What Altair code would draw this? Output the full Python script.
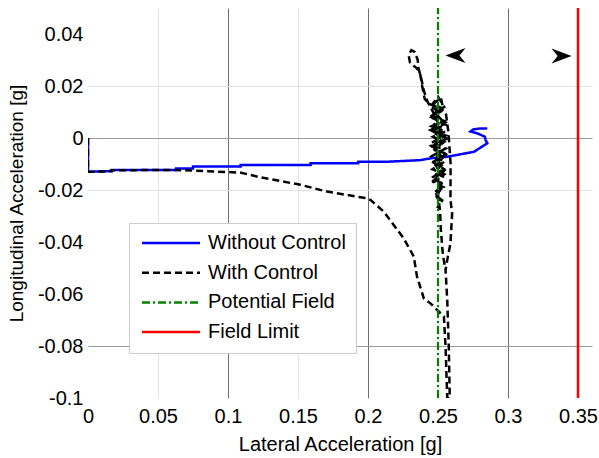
import altair as alt
import pandas as pd

series_names = ["Without Control", "With Control", "Potential Field", "Field Limit"]
series_colors = ["#0000ff", "#000000", "#008000", "#ff0000"]
series_dash = [[1, 0], [7, 4], [8, 3, 2, 3], [1, 0]]
series_width = [2.5, 2.5, 2.2, 2.5]

# Without Control (blue)
blue_x = [0.0, 0.0, 0.017, 0.017, 0.063, 0.063, 0.075, 0.075, 0.109, 0.109, 0.159, 0.159,
          0.193, 0.193, 0.215, 0.2375, 0.245, 0.2566, 0.2637, 0.2757, 0.2815, 0.2852,
          0.284, 0.2835, 0.278, 0.2732, 0.2752, 0.2792, 0.2852]
blue_y = [0.0, -0.013, -0.0127, -0.0123, -0.0123, -0.0117, -0.0117, -0.011, -0.011, -0.0104,
          -0.0104, -0.0097, -0.0097, -0.0091, -0.0091, -0.0085, -0.0078, -0.0072, -0.0065,
          -0.0053, -0.0033, -0.002, -0.0008, 0.0005, 0.0018, 0.0025, 0.0033, 0.0036, 0.0037]

# With Control (black dashed): approach, drop to the bottom, climb, oscillate, loop, descend
black_x = [0.0, 0.0, 0.017, 0.017, 0.063, 0.0777, 0.1087, 0.123, 0.1517, 0.1707, 0.1993,
           0.2017, 0.2112, 0.2255, 0.2327, 0.235, 0.2399, 0.2446, 0.2518,
           0.2542, 0.2554, 0.2566, 0.2584, 0.2577, 0.2566, 0.2554, 0.2566, 0.2589, 0.2601,
           0.2589, 0.259, 0.2575, 0.2555,
           0.246, 0.25, 0.2545, 0.244, 0.255, 0.2445, 0.2555, 0.245, 0.2555, 0.2455, 0.255,
           0.246, 0.2545, 0.247, 0.254, 0.248, 0.253, 0.2495,
           0.2515, 0.2475, 0.2535, 0.2465, 0.2545, 0.2455, 0.255, 0.245, 0.2555, 0.2448,
           0.2555, 0.2452, 0.2545, 0.2465, 0.252,
           0.2535, 0.2475, 0.2525, 0.2465, 0.2535, 0.2475, 0.2525, 0.2485, 0.2535, 0.2495, 0.2525,
           0.2485, 0.2515, 0.2475, 0.252, 0.2465, 0.251, 0.2455,
           0.2535, 0.2445, 0.2545, 0.2455, 0.2555, 0.2465, 0.2545, 0.2475, 0.2535, 0.2485, 0.2525,
           0.2505, 0.2465, 0.2545, 0.2455, 0.2555, 0.2445, 0.2555, 0.2455, 0.2545, 0.247, 0.2525,
           0.244, 0.2405,
           0.2387, 0.237, 0.2345, 0.23, 0.229, 0.231, 0.2335, 0.2355, 0.236, 0.238, 0.24,
           0.2425, 0.2475, 0.253, 0.25, 0.254, 0.25, 0.2515, 0.252, 0.2535, 0.2554]
black_y = [0.0, -0.013, -0.0128, -0.0124, -0.0123, -0.0126, -0.0133, -0.0151, -0.018, -0.0206,
           -0.0232, -0.0238, -0.0283, -0.0386, -0.0456, -0.0533, -0.0617, -0.0636, -0.0674,
           -0.0686, -0.0803, -0.1, -0.1, -0.0803, -0.0623, -0.0508, -0.0469, -0.0405, -0.029,
           -0.0238, -0.01, 0.002, 0.01,
           0.013, 0.0159, 0.012, 0.008, 0.006, 0.003, 0.001, -0.002, -0.004, -0.007, -0.009,
           -0.012, -0.014, -0.017, -0.019, -0.022, -0.024, -0.027,
           -0.025, -0.021, -0.018, -0.015, -0.012, -0.009, -0.006, -0.003, 0.0, 0.003,
           0.005, 0.008, 0.011, 0.013, 0.0155,
           0.012, 0.01, 0.007, 0.004, 0.002, -0.001, -0.005, -0.008, -0.011, -0.016, -0.02,
           -0.013, -0.009, -0.004, 0.001, 0.006, 0.01, 0.012,
           0.0105, 0.0085, 0.0065, 0.0045, 0.0025, 0.0005, -0.0015, -0.0045, -0.0075, -0.0105, -0.0145,
           -0.0185, -0.0165, -0.0125, -0.0095, -0.0065, -0.0035, -0.0005, 0.0025, 0.0055, 0.0085, 0.0115,
           0.013, 0.015,
           0.02, 0.0255, 0.027, 0.029, 0.032, 0.0338, 0.033, 0.03, 0.027, 0.023, 0.018,
           0.014, 0.009, 0.002, -0.008, -0.014, -0.022, -0.028, -0.035, -0.045, -0.0508]

# Potential field and field limit
field_x = [0.25, 0.25]
field_y = [-0.1, 0.05]
limit_x = [0.35, 0.35]
limit_y = [-0.1, 0.05]

# Arrowheads
arrow_x = [0.2625, 0.3383]
arrow_y = [0.0317, 0.0315]
arrow_dir = ["left", "right"]

x_ticks = [0, 0.05, 0.1, 0.15, 0.2, 0.25, 0.3, 0.35]
y_ticks = [0.04, 0.02, 0, -0.02, -0.04, -0.06, -0.08, -0.1]

rows = []
for name, xs, ys in [(series_names[0], blue_x, blue_y), (series_names[1], black_x, black_y),
                     (series_names[2], field_x, field_y), (series_names[3], limit_x, limit_y)]:
    for i, (a, b) in enumerate(zip(xs, ys)):
        rows.append({"series": name, "x": a, "y": b, "idx": i})
df = pd.DataFrame(rows)
arrows = pd.DataFrame({"x": arrow_x, "y": arrow_y, "dir": arrow_dir})

FONT = "Liberation Sans"

x_enc = alt.X("x:Q", scale=alt.Scale(domain=[0, 0.36], nice=False, zero=False),
              axis=alt.Axis(values=x_ticks, title="Lateral Acceleration [g]",
                            labelExpr="'' + datum.value", domain=False, ticks=False,
                            labelFlush=False, labelPadding=8, titlePadding=8,
                            labelFont=FONT, labelFontSize=20, labelColor="#000000",
                            titleFont=FONT, titleFontSize=20, titleColor="#000000",
                            titleFontWeight="normal", labelOverlap=False, labelBound=False,
                            gridColor={"condition": {"test": "datum.value == 0.1 || datum.value == 0.2 || datum.value == 0.3",
                                                     "value": "#6e6e6e"}, "value": "#e2e2e2"},
                            gridOpacity={"condition": {"test": "datum.value == 0 || datum.value == 0.35",
                                                       "value": 0}, "value": 1}))
y_enc = alt.Y("y:Q", scale=alt.Scale(domain=[-0.1, 0.05], nice=False, zero=False),
              axis=alt.Axis(values=y_ticks, title="Longitudinal Acceleration [g]",
                            labelExpr="'' + datum.value", domain=False, ticks=False,
                            labelFlush=False, labelPadding=5, titlePadding=11,
                            labelFont=FONT, labelFontSize=20, labelColor="#000000",
                            titleFont=FONT, titleFontSize=19, titleColor="#000000",
                            titleFontWeight="normal", labelOverlap=False, labelBound=False,
                            gridColor={"condition": {"test": "datum.value == 0 || datum.value == -0.08",
                                                     "value": "#9a9a9a"}, "value": "#e2e2e2"},
                            gridOpacity={"condition": {"test": "indexof([0.02, 0, -0.02, -0.08], datum.value) < 0",
                                                       "value": 0}, "value": 1}))

legend = alt.Legend(orient="none", legendX=41, legendY=215, title=None,
                    symbolType="M -0.82 0 L 6 0", symbolSize=289, symbolStrokeWidth=2.5,
                    labelFontSize=20, labelFont=FONT, labelColor="#000000", labelOffset=49,
                    labelLimit=400, padding=10, rowPadding=9.7,
                    fillColor="#ffffff", strokeColor="#cccccc")

color_enc = alt.Color("series:N", scale=alt.Scale(domain=series_names, range=series_colors), legend=legend)
dash_enc = alt.StrokeDash("series:N", scale=alt.Scale(domain=series_names, range=series_dash), legend=legend)

layers = []
for name, w in zip(series_names, series_width):
    layers.append(
        alt.Chart(df).transform_filter(alt.datum.series == name)
        .mark_line(strokeWidth=w, clip=True)
        .encode(x=x_enc, y=y_enc, color=color_enc, strokeDash=dash_enc, order="idx:Q")
    )

left_arrow = "M -1 0 L 1 -0.75 L 0.4 0 L 1 0.75 Z"
right_arrow = "M 1 0 L -1 -0.75 L -0.4 0 L -1 0.75 Z"
arrow_layer = alt.Chart(arrows).mark_point(filled=True, size=400, opacity=1, strokeWidth=0).encode(
    x="x:Q", y="y:Q",
    shape=alt.Shape("dir:N", scale=alt.Scale(domain=["left", "right"], range=[left_arrow, right_arrow]), legend=None),
    color=alt.value("#000000"),
)

chart = alt.layer(*layers, arrow_layer).properties(
    width=504, height=390,
    autosize=alt.AutoSizeParams(type="none"),
    padding={"left": 88, "top": 8, "right": 7, "bottom": 60},
    background="#ffffff",
).configure_view(strokeOpacity=0)

chart.save("out.html", embed_options={"renderer": "svg", "actions": False})
